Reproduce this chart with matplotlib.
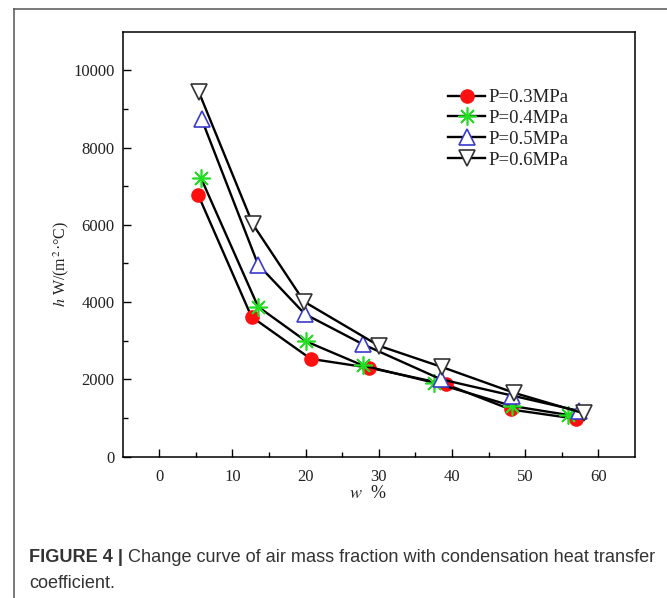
import matplotlib
matplotlib.use("Agg")
import matplotlib.pyplot as plt
from matplotlib.lines import Line2D

plt.rcParams["mathtext.fontset"] = "stix"

# ---- data ----
labels = ["P=0.3MPa", "P=0.4MPa", "P=0.5MPa", "P=0.6MPa"]
x03 = [5.3, 12.6, 20.7, 28.7, 39.2, 48.0, 56.9]
y03 = [6780, 3620, 2530, 2300, 1870, 1220, 980]
x04 = [5.7, 13.5, 20.1, 27.8, 37.6, 48.2, 55.8]
y04 = [7210, 3880, 2980, 2360, 1910, 1310, 1080]
x05 = [5.8, 13.5, 19.9, 27.8, 38.5, 48.2, 57.4]
y05 = [8730, 4970, 3690, 2910, 2000, 1580, 1180]
x06 = [5.4, 12.8, 19.8, 30.0, 38.6, 48.5, 58.0]
y06 = [9440, 6010, 4010, 2870, 2320, 1650, 1120]
xticks = [0, 10, 20, 30, 40, 50, 60]
yticks = [0, 2000, 4000, 6000, 8000, 10000]
caption_bold = "FIGURE 4 |"
caption_rest = " Change curve of air mass fraction with condensation heat transfer"
caption_line2 = "coefficient."

W, H = 667, 598
fig = plt.figure(figsize=(W / 100, H / 100), dpi=100)
fig.patch.set_facecolor("white")

serif = "Liberation Serif"
sans = "Liberation Sans"

# axes placement in pixels
L, R, T, B = 122.7, 635, 31.7, 456.6
ax = fig.add_axes([L / W, 1 - B / H, (R - L) / W, (B - T) / H])

styles = [
    dict(marker="o", ms=9.5, mfc="#ff1010", mec="#ff1010", mew=1.0),
    dict(marker=(8, 2, 0), ms=13, mfc="#22dd22", mec="#22dd22", mew=1.2),
    dict(marker="^", ms=11, mfc="white", mec="#3a3acc", mew=1.2),
    dict(marker="v", ms=11, mfc="white", mec="#333333", mew=1.2),
]
series = [(x03, y03), (x04, y04), (x05, y05), (x06, y06)]
for (xs, ys), st, lab in zip(series, styles, labels):
    ax.plot(xs, ys, color="black", lw=1.7, label=lab, **st)

ax.set_xlim(-5, 65)
ax.set_ylim(0, 11000)
ax.set_xticks(xticks)
ax.set_xticklabels([str(t) for t in xticks])
ax.set_yticks(yticks)
ax.set_yticklabels([str(t) for t in yticks])
ax.set_xticks([5, 15, 25, 35, 45, 55], minor=True)
ax.set_yticks([1000, 3000, 5000, 7000, 9000], minor=True)
ax.tick_params(which="major", direction="in", length=5.5, width=1.0,
               labelsize=12, pad=4)
ax.tick_params(which="minor", direction="in", length=3.5, width=1.0)
ax.tick_params(axis="y", which="major", pad=6)
ax.tick_params(axis="x", which="major", pad=9)
for lab in ax.get_xticklabels() + ax.get_yticklabels():
    lab.set_fontfamily(serif)
    lab.set_color("#222222")
for s in ax.spines.values():
    s.set_linewidth(1.1)
    s.set_color("black")

leg = ax.legend(loc="upper left", bbox_to_anchor=((448 - L) / (R - L), 1 - (89 - T) / (B - T)),
                frameon=False, prop={"family": serif, "size": 13.5},
                handlelength=2.0, handletextpad=0.15, labelspacing=0.2,
                borderaxespad=0, borderpad=0)
for t in leg.get_texts():
    t.set_color("#222222")

# axis labels
fig.text(61 / W, 1 - 264 / H, r"$h$ W/(m$^{\,2}$·°C)", rotation=90, ha="center", va="center",
         fontsize=11.5, family=serif, color="#222222")
fig.text(368 / W, 1 - 494 / H, r"$w$  %", ha="center", va="center",
         fontsize=13, family=serif, color="#222222")

# caption
cy1, cy2 = 557, 583
fs = 13.1
t1 = fig.text(29 / W, 1 - cy1 / H, caption_bold, ha="left", va="center",
              fontsize=fs, family=sans, weight="bold", color="#333333")
fig.canvas.draw()
bb = t1.get_window_extent()
fig.text(bb.x1 / W, 1 - cy1 / H, caption_rest, ha="left", va="center",
         fontsize=fs, family=sans, color="#333333")
fig.text(29 / W, 1 - cy2 / H, caption_line2, ha="left", va="center",
         fontsize=fs, family=sans, color="#333333")

# outer frame (top and left)
fig.add_artist(Line2D([14 / W, 1], [1 - 8.5 / H, 1 - 8.5 / H], color="#555555", lw=1.1,
                      transform=fig.transFigure))
fig.add_artist(Line2D([14 / W, 14 / W], [0, 1 - 8.5 / H], color="#555555", lw=1.1,
                      transform=fig.transFigure))

fig.savefig("out.png", dpi=100, facecolor="white")
